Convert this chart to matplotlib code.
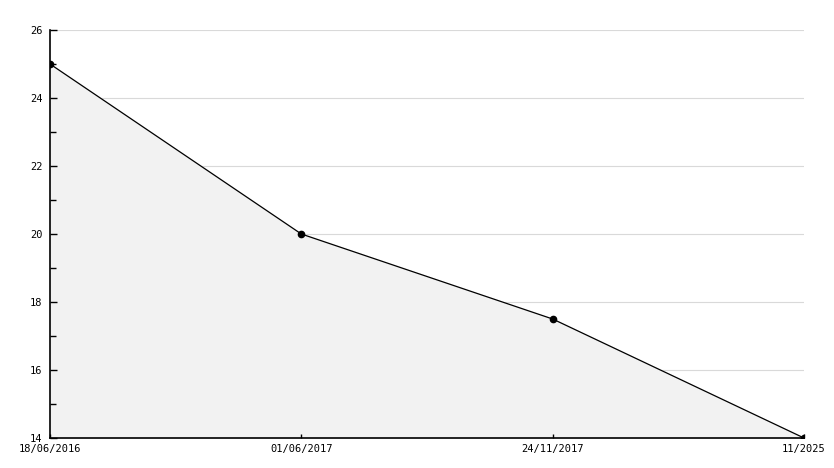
import matplotlib
matplotlib.use("Agg")
import matplotlib.pyplot as plt
from matplotlib.ticker import MultipleLocator

categories = ["18/06/2016", "01/06/2017", "24/11/2017", "11/2025"]
values = [25, 20, 17.5, 14]
y_major = [16, 18, 20, 22, 24, 26]

fig = plt.figure(figsize=(8.34, 4.68), dpi=100)
ax = fig.add_axes([50/834, 30/468, (804-50)/834, (438-30)/468])

x = list(range(len(categories)))
for yv in y_major:
    ax.axhline(yv, color="#d9d9d9", linewidth=0.8, zorder=0.2)
ax.fill_between(x, values, 14, color="#f2f2f2", zorder=0.4)
ax.plot(x, values, color="black", linewidth=0.9, marker="o", markersize=4.5, zorder=3)

ax.set_xlim(0, len(categories) - 1)
ax.set_ylim(14, 26)
ax.yaxis.set_major_locator(MultipleLocator(2))
ax.yaxis.set_minor_locator(MultipleLocator(1))
ax.set_xticks(x)
ax.set_xticklabels(categories)

ax.set_axisbelow(False)
for s in ["top", "right"]:
    ax.spines[s].set_visible(False)
ax.spines["left"].set_linewidth(1.2)
ax.spines["bottom"].set_linewidth(1.2)

ax.tick_params(axis="y", which="major", direction="in", length=5, width=1, pad=5.5, labelsize=7.5)
ax.tick_params(axis="y", which="minor", direction="in", length=4, width=1)
ax.tick_params(axis="x", which="major", direction="in", length=3, width=1, pad=4, labelsize=7.5)
for lab in ax.get_xticklabels() + ax.get_yticklabels():
    lab.set_fontfamily("DejaVu Sans Mono")

fig.savefig("out.png", dpi=100)
